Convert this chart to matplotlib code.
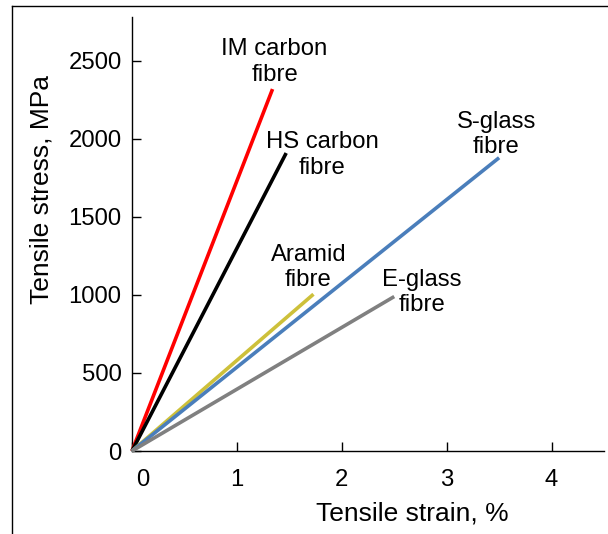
import matplotlib
matplotlib.use('Agg')
import matplotlib.pyplot as plt
import matplotlib.transforms as mtransforms
from matplotlib.lines import Line2D

plt.rcParams['font.family'] = ['Liberation Sans', 'DejaVu Sans']

# fibre data: end point of each stress-strain line
fibres = ['IM carbon\nfibre', 'HS carbon\nfibre', 'Aramid\nfibre', 'S-glass\nfibre', 'E-glass\nfibre']
strain = [1.34, 1.47, 1.73, 3.50, 2.50]
stress = [2320, 1910, 1005, 1880, 990]
colours = ['#ff0000', '#000000', '#cdc03a', '#4a7ebb', '#808080']
label_offsets = [(2, 27), (36, -2), (-5, 27), (-3, 23), (28, 4)]

x_ticks = [0, 1, 2, 3, 4]
y_ticks = [0, 500, 1000, 1500, 2000, 2500]

W, H = 608, 534
fig = plt.figure(figsize=(W / 100, H / 100), dpi=100)
ax = fig.add_axes([132 / W, (H - 451) / H, (604 - 132) / W, (451 - 17) / H])

for s, e, c in zip(strain, stress, colours):
    ax.plot([0, s], [0, e], color=c, lw=2.6, clip_on=False, solid_capstyle='butt', zorder=3)

for name, s, e, off in zip(fibres, strain, stress, label_offsets):
    ax.annotate(name, xy=(s, e), xytext=off, textcoords='offset pixels',
                ha='center', va='center', fontsize=17.2, linespacing=1.2)

ax.set_xlim(0, 4.5)
ax.set_ylim(0, 2782)
ax.set_xticks(x_ticks)
ax.set_yticks(y_ticks)
ax.spines['top'].set_visible(False)
ax.spines['right'].set_visible(False)
for sp in ['left', 'bottom']:
    ax.spines[sp].set_linewidth(1.0)
ax.tick_params(axis='both', direction='in', length=6.5, width=1.0, labelsize=17.2)
ax.tick_params(axis='x', pad=13)
ax.tick_params(axis='y', pad=7.5)

# first x tick label sits a bit to the right of the origin
shift = mtransforms.ScaledTranslation(11 / 100, 0, fig.dpi_scale_trans)
lbl = ax.get_xticklabels()[0]
lbl.set_transform(lbl.get_transform() + shift)

fig.text(412 / W, 1 - 513 / H, 'Tensile strain, %', ha='center', va='center', fontsize=19)
fig.text(42 / W, 1 - 190 / H, 'Tensile stress, MPa', ha='center', va='center',
         rotation=90, fontsize=19)

# outer frame lines
fig.add_artist(Line2D([12 / W, 12 / W], [0, 1 - 6 / H], color='black', lw=1.0))
fig.add_artist(Line2D([12 / W, 1], [1 - 6 / H, 1 - 6 / H], color='black', lw=1.0))

fig.savefig('out.png', dpi=100)
